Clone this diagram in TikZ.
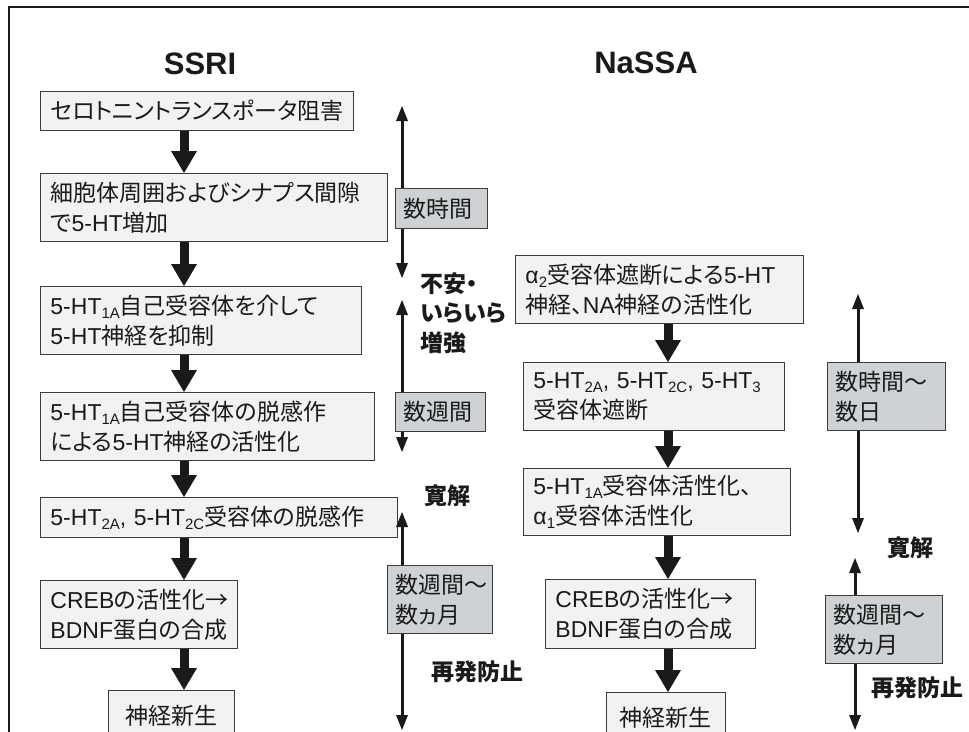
\documentclass[tikz,border=0pt]{standalone}
\usepackage{fontspec}
\setmainfont{Liberation Sans}
\newfontfamily\jp[RawFeature=+palt]{Noto Sans CJK JP}
\usetikzlibrary{arrows.meta}
\definecolor{boxfill}{HTML}{F2F2F2}
\definecolor{timefill}{HTML}{CED2D4}
\definecolor{edge}{HTML}{3C3C3C}
\definecolor{ink}{HTML}{1A1A1A}
\newcommand{\J}[1]{{\jp #1}}
\newcommand{\sbs}[1]{\raisebox{-4pt}{\fontsize{15}{15}\selectfont #1}}
\tikzset{
  box/.style={draw=edge, fill=boxfill, line width=0.9pt, anchor=north west, inner xsep=10pt, inner ysep=0pt, align=left, text=ink, font=\fontsize{23}{30}\selectfont},
  tbox/.style={draw=edge, fill=timefill, line width=0.9pt, anchor=north west, inner xsep=8pt, inner ysep=0pt, align=left, text=ink, font=\fontsize{23}{30}\selectfont\jp},
  blockarr/.style={draw=ink, line width=9pt, -{Triangle[width=26pt,length=22pt,line width=0pt]}},
  tarrow/.style={draw=ink, line width=3pt, -{Triangle[width=12pt,length=15pt,line width=0pt]}},
  lbl/.style={font=\fontsize{23}{29.5}\selectfont\jp\bfseries, text=ink, align=left, inner sep=0pt},
  ttl/.style={font=\fontsize{31}{31}\selectfont\bfseries, text=ink, inner sep=0pt},
}
\begin{document}
\begin{tikzpicture}[x=1pt,y=-1pt]
\useasboundingbox (0,0) rectangle (969,731);
\fill[white] (0,0) rectangle (969,731);
% frame
\draw[line width=2.2pt, draw=ink] (9,740) -- (9,7) -- (975,7);
% titles
\node[ttl] (ssri) at (200,64) {SSRI};
\node[ttl] (nassa) at (646,63) {NaSSA};
% arrow axes
\coordinate (ax) at (184,0);
\coordinate (bx) at (668,0);
% SSRI column
\node[box, text width=293pt, minimum height=39pt] (s1) at (40,91) {\J{セロトニントランスポータ阻害}};
\node[box, text width=327pt, minimum height=68pt] (s2) at (40,173) {\J{細胞体周囲およびシナプス間隙}\\\J{で}5-HT\J{増加}};
\node[box, text width=301pt, minimum height=68pt] (s3) at (40,286) {5-HT\sbs{1A}\J{自己受容体を介して}\\5-HT\J{神経を抑制}};
\node[box, text width=314pt, minimum height=68pt] (s4) at (40,392) {5-HT\sbs{1A}\J{自己受容体の脱感作}\\\J{による}5-HT\J{神経の活性化}};
\node[box, text width=337pt, minimum height=40pt] (s5) at (40,497) {5-HT\sbs{2A}, 5-HT\sbs{2C}\J{受容体の脱感作}};
\node[box, text width=177pt, minimum height=68pt] (s6) at (40,580) {CREB\J{の活性化→}\\BDNF\J{蛋白の合成}};
\node[box, text width=106pt, minimum height=50pt, align=center] (s7) at (108,690) {\J{神経新生}};
\draw[blockarr] (s1.south -| ax) -- (s2.north -| ax);
\draw[blockarr] (s2.south -| ax) -- (s3.north -| ax);
\draw[blockarr] (s3.south -| ax) -- (s4.north -| ax);
\draw[blockarr] (s4.south -| ax) -- (s5.north -| ax);
\draw[blockarr] (s5.south -| ax) -- (s6.north -| ax);
\draw[blockarr] (s6.south -| ax) -- (s7.north -| ax);
% NaSSA column
\node[box, text width=268pt, minimum height=68pt] (n1) at (515,255) {α\sbs{2}\J{受容体遮断による}5-HT\\\J{神経、}NA\J{神経の活性化}};
\node[box, text width=241pt, minimum height=68pt] (n2) at (523,362) {5-HT\sbs{2A}, 5-HT\sbs{2C}, 5-HT\sbs{3}\\\J{受容体遮断}};
\node[box, text width=247pt, minimum height=67pt] (n3) at (523,468) {5-HT\sbs{1A}\J{受容体活性化、}\\α\sbs{1}\J{受容体活性化}};
\node[box, text width=190pt, minimum height=69pt] (n4) at (545,579) {CREB\J{の活性化→}\\BDNF\J{蛋白の合成}};
\node[box, text width=99pt, minimum height=50pt, align=center] (n5) at (606,692) {\J{神経新生}};
\draw[blockarr] (n1.south -| bx) -- (n2.north -| bx);
\draw[blockarr] (n2.south -| bx) -- (n3.north -| bx);
\draw[blockarr] (n3.south -| bx) -- (n4.north -| bx);
\draw[blockarr] (n4.south -| bx) -- (n5.north -| bx);
% SSRI time scale
\node[tbox, text width=76pt, minimum height=40pt] (t1) at (395,188) {数時間};
\node[tbox, text width=74pt, minimum height=39pt] (t2) at (395,392) {数週間};
\node[tbox, text width=89pt, minimum height=68pt] (t3) at (387,565) {数週間〜\\数ヵ月};
\coordinate (t1top) at (402,106);
\coordinate (t1bot) at (402,278);
\coordinate (t2top) at (402,300);
\coordinate (t2bot) at (402,452);
\coordinate (t3top) at (402,512);
\coordinate (t3bot) at (402,730);
\draw[tarrow] (t1.north -| t1top) -- (t1top);
\draw[tarrow] (t1.south -| t1bot) -- (t1bot);
\draw[tarrow] (t2.north -| t2top) -- (t2top);
\draw[tarrow] (t2.south -| t2bot) -- (t2bot);
\draw[tarrow] (t3.north -| t3top) -- (t3top);
\draw[tarrow] (t3.south -| t3bot) -- (t3bot);
\node[lbl, anchor=west] (anx) at (420,313) {不安・\\いらいら\\増強};
\node[lbl] (kan1) at (447,496) {寛解};
\node[lbl] (sai1) at (477,672) {再発防止};
% NaSSA time scale
\node[tbox, text width=102pt, minimum height=68pt] (u1) at (827,362) {数時間〜\\数日};
\node[tbox, text width=101pt, minimum height=68pt] (u2) at (825,595) {数週間〜\\数ヵ月};
\coordinate (u1top) at (858,294);
\coordinate (u1bot) at (858,533);
\coordinate (u2top) at (855,558);
\coordinate (u2bot) at (855,730);
\draw[tarrow] (u1.north -| u1top) -- (u1top);
\draw[tarrow] (u1.south -| u1bot) -- (u1bot);
\draw[tarrow] (u2.north -| u2top) -- (u2top);
\draw[tarrow] (u2.south -| u2bot) -- (u2bot);
\node[lbl] (kan2) at (910,548) {寛解};
\node[lbl] (sai2) at (917,688) {再発防止};
\end{tikzpicture}
\end{document}
